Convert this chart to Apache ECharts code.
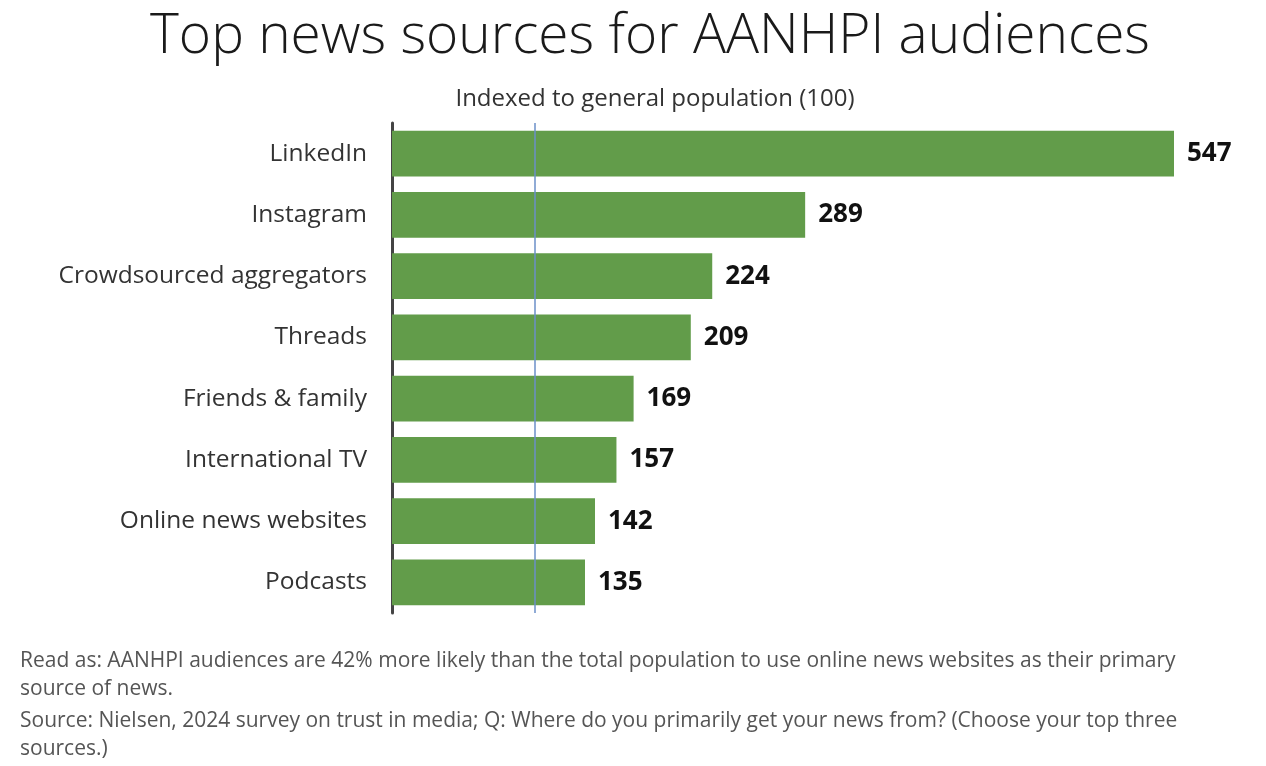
<!DOCTYPE html>
<html>
<head>
<meta charset="utf-8">
<script src="https://cdn.jsdelivr.net/npm/echarts@6/dist/echarts.min.js"></script>
<style>html,body{margin:0;padding:0;background:#fff;}#c{width:1266px;height:766px;}</style>
</head>
<body>
<div id="c"></div>
<script>
const categories = ["LinkedIn","Instagram","Crowdsourced aggregators","Threads","Friends & family","International TV","Online news websites","Podcasts"];
const values = [547,289,224,209,169,157,142,135];
const baseline = 100;
const footerLines = [
  'Read as: AANHPI audiences are 42% more likely than the total population to use online news websites as their primary',
  'source of news.',
  'Source: Nielsen, 2024 survey on trust in media; Q: Where do you primarily get your news from? (Choose your top three',
  'sources.)'
];

const chart = echarts.init(document.getElementById('c'));
const font = '"Open Sans", "Noto Sans", sans-serif';
const footerTops = [651, 679, 711, 739];
chart.setOption({
  animation: false,
  backgroundColor: '#fff',
  title: [
    {text: 'Top news sources for AANHPI audiences', left: 645, top: 5, textAlign: 'center',
     textStyle: {fontFamily: font, fontSize: 55, fontWeight: 300, color: '#1a1a1a'}},
    {text: 'Indexed to general population (100)', left: 650, top: 82, textAlign: 'center',
     textStyle: {fontFamily: font, fontSize: 24, fontWeight: 'normal', color: '#333'}}
  ],
  grid: {left: 392, right: 92, top: 123, bottom: 153, containLabel: false},
  xAxis: {type: 'value', min: 0, max: 547, show: false},
  yAxis: {type: 'category', data: categories, inverse: true,
    axisLine: {show: true, lineStyle: {color: '#444', width: 3}},
    axisTick: {show: false},
    axisLabel: {margin: 25, fontFamily: font, fontSize: 24.5, color: '#333'}},
  series: [{
    type: 'bar', data: values, barCategoryGap: '25%',
    itemStyle: {color: '#629C4A'},
    label: {show: true, position: 'right', distance: 13, fontFamily: font, fontSize: 26, fontWeight: 'bold', color: '#111'},
    markLine: {silent: true, symbol: 'none', label: {show: false},
      lineStyle: {color: '#6b8fc9', width: 1.5, type: 'solid'},
      data: [{xAxis: baseline}]},
    z: 2
  }],
  graphic: footerLines.map((t, i) => ({
    type: 'text', left: 20, top: footerTops[i],
    style: {text: t, fontFamily: font, fontSize: 21, fill: '#555'}
  }))
});
</script>
</body>
</html>
